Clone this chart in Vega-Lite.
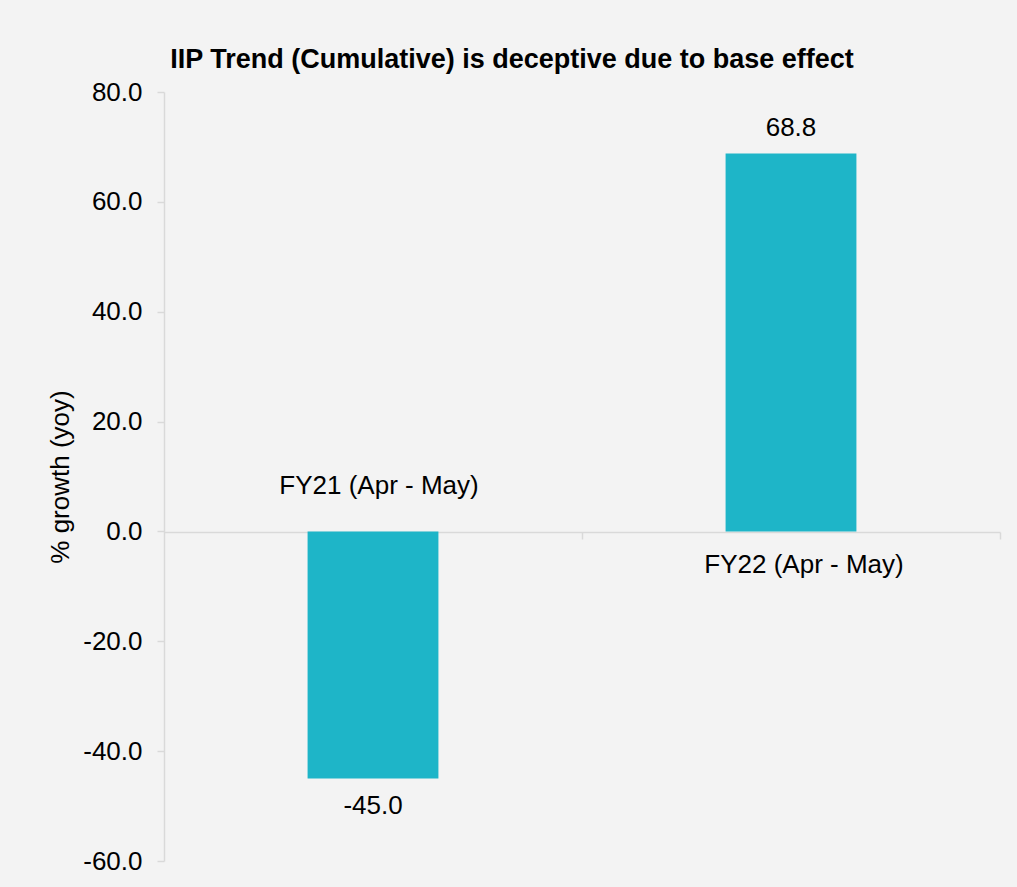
{
  "$schema": "https://vega.github.io/schema/vega-lite/v6.json",
  "autosize": "none",
  "width": 836,
  "height": 769,
  "padding": {"left": 164, "top": 92, "right": 17, "bottom": 26},
  "background": "#f3f3f3",
  "title": {
    "text": "IIP Trend (Cumulative)  is deceptive due to base effect",
    "font": "Liberation Sans",
    "fontSize": 27,
    "fontWeight": "bold",
    "color": "#000000",
    "anchor": "middle",
    "dx": -70,
    "offset": 5
  },
  "config": {
    "view": {"stroke": null},
    "font": "Liberation Sans",
    "locale": {
      "number": {"decimal": ".", "thousands": ",", "grouping": [3], "currency": ["$", ""], "minus": "-"}
    }
  },
  "data": {
    "values": [
      {"period": "FY21 (Apr - May)", "growth": -45.0},
      {"period": "FY22 (Apr - May)", "growth": 68.8}
    ]
  },
  "encoding": {
    "x": {
      "field": "period",
      "type": "nominal",
      "sort": null,
      "scale": {"paddingInner": 0, "paddingOuter": 0},
      "axis": {
        "title": null,
        "labels": false,
        "offset": -329,
        "domainColor": "#d9d9d9",
        "domainWidth": 1.5,
        "tickColor": "#d9d9d9",
        "tickWidth": 1.5,
        "tickSize": 7,
        "bandPosition": 1
      }
    },
    "y": {
      "field": "growth",
      "type": "quantitative",
      "scale": {"domain": [-60, 80], "nice": false, "zero": false},
      "axis": {
        "title": "% growth (yoy)",
        "titleFont": "Liberation Sans",
        "titleFontSize": 26,
        "titleFontWeight": "normal",
        "titleColor": "#000000",
        "titlePadding": 9,
        "values": [-60, -40, -20, 0, 20, 40, 60, 80],
        "format": ".1f",
        "labelFontSize": 26,
        "labelColor": "#000000",
        "labelPadding": 15,
        "grid": false,
        "domainColor": "#d9d9d9",
        "domainWidth": 1.5,
        "tickColor": "#d9d9d9",
        "tickWidth": 1.5,
        "tickSize": 7
      }
    }
  },
  "layer": [
    {
      "mark": {"type": "bar", "color": "#1eb5c8", "width": {"band": 0.313}}
    },
    {
      "transform": [{"filter": "datum.growth >= 0"}],
      "mark": {"type": "text", "fontSize": 26, "color": "#000000", "baseline": "middle", "dy": -26},
      "encoding": {"text": {"field": "growth", "type": "quantitative", "format": ".1f"}}
    },
    {
      "transform": [{"filter": "datum.growth < 0"}],
      "mark": {"type": "text", "fontSize": 26, "color": "#000000", "baseline": "middle", "dy": 27},
      "encoding": {"text": {"field": "growth", "type": "quantitative", "format": ".1f"}}
    },
    {
      "transform": [{"filter": "datum.growth < 0"}],
      "mark": {"type": "text", "fontSize": 26, "color": "#000000", "baseline": "middle", "dy": -45, "dx": 6},
      "encoding": {"y": {"datum": 0}, "text": {"field": "period"}}
    },
    {
      "transform": [{"filter": "datum.growth >= 0"}],
      "mark": {"type": "text", "fontSize": 26, "color": "#000000", "baseline": "middle", "dy": 34, "dx": 13},
      "encoding": {"y": {"datum": 0}, "text": {"field": "period"}}
    }
  ]
}
